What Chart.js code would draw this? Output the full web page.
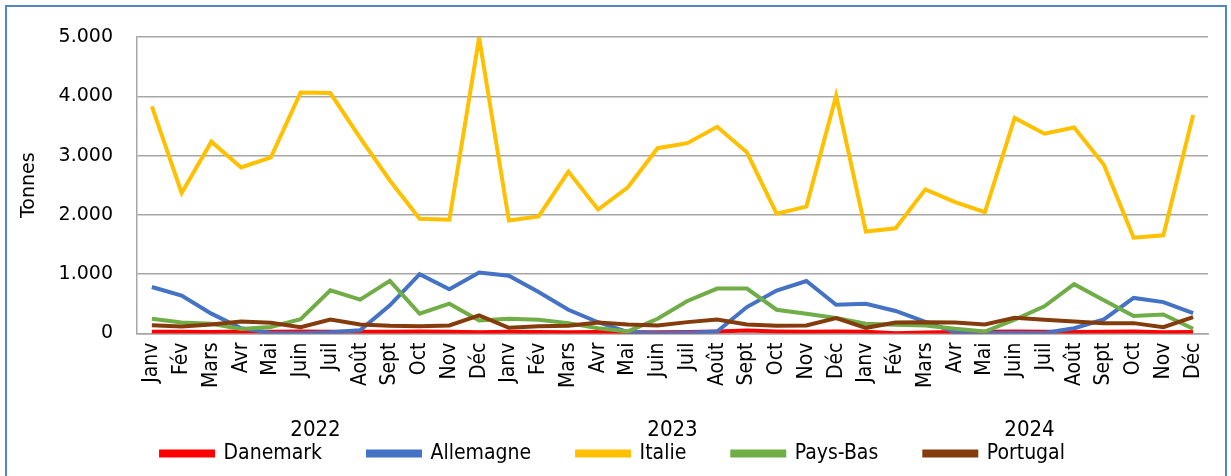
<!DOCTYPE html>
<html>
<head>
<meta charset="utf-8">
<script src="https://cdn.jsdelivr.net/npm/chart.js@4.4.1/dist/chart.umd.min.js"></script>
<style>
  html, body { margin: 0; padding: 0; background: #fff; }
  #wrap { position: relative; width: 1231px; height: 476px; overflow: hidden; }
  #frame { position: absolute; left: 5px; top: 5px; width: 1218px; height: 480px; border: 2px solid #5585c5; pointer-events: none; }
  canvas { position: absolute; left: 0; top: 0; }
</style>
</head>
<body>
<div id="wrap">
  <canvas id="linechart" width="1231" height="476"></canvas>
  <div id="frame"></div>
</div>
<script>
// monthly volumes, tonnes (Jan 2022 - Dec 2024)
var months = ['Janv', 'Fév', 'Mars', 'Avr', 'Mai', 'Juin', 'Juil', 'Août', 'Sept', 'Oct', 'Nov', 'Déc'];
var years  = ['2022', '2023', '2024'];
var yTicks = [0, 1000, 2000, 3000, 4000, 5000];

var danemark  = [30, 28, 25, 35, 30, 32, 28, 30, 30, 35, 30, 22,
                 28, 24, 22, 25, 22, 20, 25, 35, 50, 35, 30, 35,
                 30, 5, 15, 25, 30, 35, 30, 25, 30, 35, 20, 25];
var allemagne = [785, 640, 335, 90, 10, 5, 20, 55, 475, 1000, 746, 1028,
                 975, 700, 400, 190, 25, 10, 15, 35, 446, 725, 885, 485,
                 500, 380, 195, 25, 8, 10, 8, 90, 237, 600, 530, 345];
var italie    = [3830, 2370, 3235, 2800, 2970, 4065, 4055, 3300, 2580, 1935, 1920, 4990,
                 1905, 1975, 2730, 2090, 2465, 3125, 3210, 3485, 3055, 2020, 2140, 4010,
                 1720, 1775, 2430, 2215, 2045, 3635, 3370, 3475, 2845, 1615, 1655, 3685];
var paysBas   = [249, 186, 164, 75, 110, 240, 729, 571, 887, 333, 503, 220,
                 249, 232, 175, 90, 35, 249, 548, 757, 757, 401, 333, 260,
                 164, 147, 136, 79, 34, 232, 458, 831, 560, 294, 322, 80];
var portugal  = [141, 119, 153, 203, 181, 107, 237, 153, 130, 124, 136, 305,
                 96, 124, 130, 186, 153, 136, 192, 237, 153, 130, 136, 260,
                 96, 186, 192, 186, 153, 266, 232, 203, 175, 175, 107, 277];

var labels = [];
for (var y = 0; y < years.length; y++) {
    for (var m = 0; m < months.length; m++) {
        labels.push(months[m]);
    }
}

var condensed = "'DejaVu Sans Condensed', 'DejaVu Sans', sans-serif";
var gridColor = '#a6a6a6';

function serie(label, data, color, order) {
    return {
        label: label,
        data: data,
        borderColor: color,
        backgroundColor: color,
        borderWidth: 4,
        pointRadius: 0,
        tension: 0,
        fill: false,
        order: order
    };
}

// year captions centred under each block of twelve months
var yearLabels = {
    id: 'yearLabels',
    afterDraw: function(chart) {
        var xs = chart.scales.x;
        var c = chart.ctx;
        c.save();
        c.fillStyle = '#000';
        c.font = "22px " + condensed;
        c.textAlign = 'center';
        c.textBaseline = 'middle';
        for (var i = 0; i < years.length; i++) {
            var a = xs.getPixelForValue(i * months.length);
            var b = xs.getPixelForValue(i * months.length + months.length - 1);
            c.fillText(years[i], (a + b) / 2, xs.bottom + 33);
        }
        c.restore();
    }
};

var chartdata = {
    labels: labels,
    datasets: [
        serie('Danemark', danemark, '#ff0000', 4),
        serie('Allemagne', allemagne, '#4472c4', 3),
        serie('Italie', italie, '#ffc000', 2),
        serie('Pays-Bas', paysBas, '#70ad47', 1),
        serie('Portugal', portugal, '#843c0c', 0)
    ]
};

var ctx = document.getElementById('linechart');
var lineChart = new Chart(ctx, {
    type: 'line',
    data: chartdata,
    plugins: [yearLabels],
    options: {
        responsive: false,
        animation: false,
        layout: {
            padding: { left: 18, top: 37, right: 23, bottom: 2 }
        },
        plugins: {
            tooltip: { enabled: false },
            legend: {
                position: 'bottom',
                labels: {
                    boxWidth: 52,
                    boxHeight: 4,
                    padding: 46,
                    color: '#000',
                    font: { family: condensed, size: 21 },
                    sort: function(a, b) { return a.datasetIndex - b.datasetIndex; }
                }
            }
        },
        scales: {
            x: {
                offset: true,
                grid: { display: false, drawTicks: false },
                border: { display: true, color: gridColor, width: 1.5 },
                ticks: {
                    autoSkip: false,
                    minRotation: 90,
                    maxRotation: 90,
                    padding: 9,
                    color: '#000',
                    font: { family: condensed, size: 21 }
                }
            },
            y: {
                min: 0,
                max: 5000,
                afterBuildTicks: function(scale) {
                    scale.ticks = yTicks.map(function(v) { return { value: v }; });
                },
                afterFit: function(scale) {
                    scale.width = 119;
                },
                grid: { color: gridColor, lineWidth: 1.5, drawTicks: false },
                border: { display: true, color: gridColor, width: 1.5 },
                title: {
                    display: true,
                    text: 'Tonnes',
                    color: '#000',
                    padding: { top: 0, bottom: 0 },
                    font: { family: "'DejaVu Sans', sans-serif", size: 19 }
                },
                ticks: {
                    padding: 24,
                    color: '#000',
                    font: { family: "'DejaVu Sans', sans-serif", size: 19 },
                    callback: function(value) {
                        return value.toLocaleString('de-DE');
                    }
                }
            }
        }
    }
});
</script>
</body>
</html>
